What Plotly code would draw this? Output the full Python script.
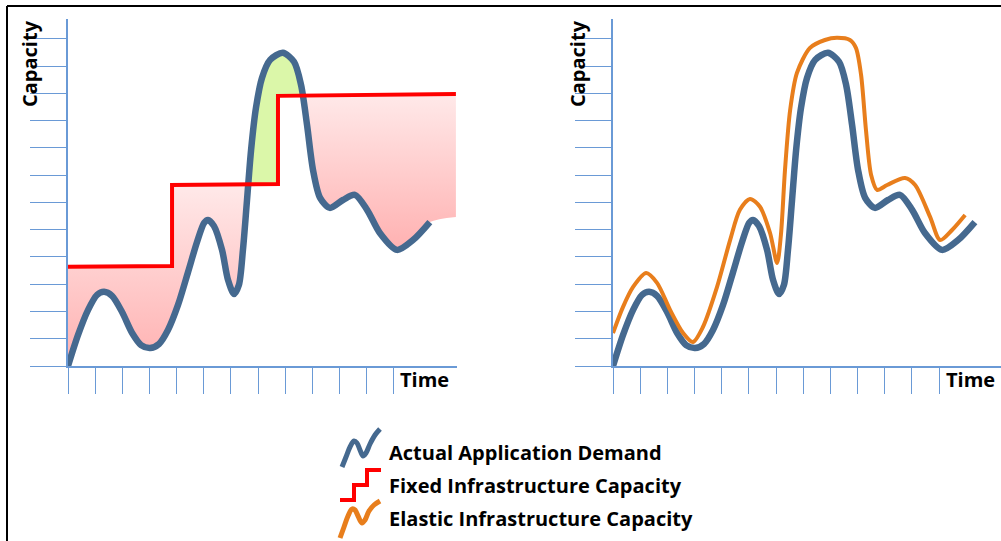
import plotly.graph_objects as go

# one unit = one tick step on both axes
time_ticks = list(range(13))
cap_ticks = list(range(13))

# actual application demand (same curve in both panels)
demand_x = [0, 0.37, 0.74, 1.07, 1.33, 1.62, 1.99, 2.36, 2.69, 3.02, 3.35, 3.68,
            4.05, 4.42, 4.75, 5.01, 5.15, 5.37, 5.67, 5.89, 6.11, 6.29, 6.44,
            6.59, 6.74, 6.92, 7.14, 7.44, 7.91, 8.32, 8.58, 8.80, 9.02, 9.28,
            9.64, 10.12, 10.56, 11.01, 11.48, 12.11, 12.70, 13.32]
demand_y = [0, 1.14, 2.06, 2.61, 2.72, 2.57, 1.98, 1.21, 0.77, 0.66, 0.81, 1.32,
            2.24, 3.45, 4.55, 5.25, 5.36, 5.14, 4.26, 3.16, 2.64, 2.97, 4.26,
            6.09, 7.93, 9.47, 10.57, 11.23, 11.49, 11.16, 10.31, 8.84, 7.19, 6.17,
            5.80, 6.09, 6.28, 5.73, 4.88, 4.26, 4.62, 5.28]

# fixed infrastructure capacity (step line)
fixed_x = [0, 3.83, 3.83, 7.73, 7.73, 14.28]
fixed_y = [3.64, 3.67, 6.64, 6.68, 9.91, 9.98]
# lower right corner of the shaded area
shade_end_x, shade_end_y = 14.28, 5.47

# elastic infrastructure capacity
elastic_x = [0, 0.37, 0.74, 1.22, 1.62, 2.10, 2.58, 2.94, 3.31, 3.83, 4.31, 4.67,
             5.04, 5.41, 5.78, 6.04, 6.18, 6.33, 6.52, 6.77, 7.25, 7.80, 8.24,
             8.72, 8.94, 9.13, 9.31, 9.50, 9.72, 10.09, 10.75, 11.12, 11.67,
             12.04, 12.48, 12.96]
elastic_y = [1.21, 2.17, 2.90, 3.41, 3.05, 2.06, 1.21, 0.88, 1.43, 2.90, 4.62, 5.73,
             6.13, 5.84, 4.88, 3.78, 4.81, 7.19, 9.39, 10.75, 11.67, 11.96, 12.04,
             11.96, 11.67, 10.68, 8.66, 7.01, 6.46, 6.64, 6.90, 6.64, 5.47,
             4.62, 4.99, 5.54]

# legend
legend_labels = ["Actual Application Demand", "Fixed Infrastructure Capacity",
                 "Elastic Infrastructure Capacity"]
icon_demand_x = [342, 346, 350, 354, 357, 360, 363, 366, 370, 375, 380]
icon_demand_y = [467, 457, 447, 441, 443, 450, 456, 453, 444, 435, 429]
icon_fixed_x = [340, 354, 354, 367, 367, 381]
icon_fixed_y = [500, 500, 485, 485, 470, 470]
icon_elastic_x = [340, 344, 348, 352, 355, 358, 362, 365, 369, 374, 380]
icon_elastic_y = [538, 527, 516, 509, 510, 516, 523, 520, 511, 505, 501]

BLUE = "#45698f"
ORANGE = "#e87e1c"
RED = "#ff0000"
GREEN = "#dbf7a9"
AXIS = "#6a9ad6"
FONT = "Open Sans"
W, H = 1001, 541


def red_at(x):
    for i in range(len(fixed_x) - 1):
        x0, x1 = fixed_x[i], fixed_x[i + 1]
        if x1 > x0 and x0 <= x <= x1:
            return fixed_y[i] + (x - x0) / (x1 - x0) * (fixed_y[i + 1] - fixed_y[i])
    return fixed_y[-1]


# split demand into runs above / below the fixed capacity
runs = []
cur = {"above": demand_y[0] > red_at(demand_x[0]), "bx": [demand_x[0]], "by": [demand_y[0]]}
for i in range(1, len(demand_x)):
    above = demand_y[i] > red_at(demand_x[i])
    if above != cur["above"]:
        d0 = demand_y[i - 1] - red_at(demand_x[i - 1])
        d1 = demand_y[i] - red_at(demand_x[i])
        t = d0 / (d0 - d1)
        cx = demand_x[i - 1] + t * (demand_x[i] - demand_x[i - 1])
        cy = red_at(cx)
        cur["bx"].append(cx)
        cur["by"].append(cy)
        runs.append(cur)
        cur = {"above": above, "bx": [cx], "by": [cy]}
    cur["bx"].append(demand_x[i])
    cur["by"].append(demand_y[i])
cur["bx"].append(shade_end_x)
cur["by"].append(shade_end_y)
runs.append(cur)

fig = go.Figure()

for r in runs:
    xa, xb = r["bx"][0], r["bx"][-1]
    rx = [xa] + [x for x in fixed_x if xa < x < xb] + [xb]
    ry = [red_at(xa)]
    for j in range(len(fixed_x)):
        if xa < fixed_x[j] < xb:
            ry.append(fixed_y[j])
    ry.append(red_at(xb))
    fig.add_trace(go.Scatter(x=rx, y=ry, mode="lines", line=dict(width=0),
                             hoverinfo="skip", showlegend=False, xaxis="x", yaxis="y"))
    if r["above"]:
        fill = dict(fillcolor=GREEN)
    else:
        lo = min(r["by"] + ry)
        hi = max(r["by"] + ry)
        fill = dict(fillgradient=dict(type="vertical", start=lo, stop=hi,
                                      colorscale=[[0, "#ffb1b1"], [1, "#ffe9e9"]]))
    fig.add_trace(go.Scatter(x=r["bx"], y=r["by"], mode="lines", fill="tonexty",
                             line=dict(width=0, shape="spline", smoothing=0.8),
                             hoverinfo="skip", showlegend=False, xaxis="x", yaxis="y", **fill))

# left panel lines
fig.add_trace(go.Scatter(x=demand_x, y=demand_y, mode="lines",
                         line=dict(color=BLUE, width=6.5, shape="spline", smoothing=0.8),
                         showlegend=False, xaxis="x", yaxis="y"))
fig.add_trace(go.Scatter(x=fixed_x, y=fixed_y, mode="lines",
                         line=dict(color=RED, width=4),
                         showlegend=False, xaxis="x", yaxis="y"))

# right panel lines
fig.add_trace(go.Scatter(x=demand_x, y=demand_y, mode="lines",
                         line=dict(color=BLUE, width=6.5, shape="spline", smoothing=0.8),
                         showlegend=False, xaxis="x2", yaxis="y2"))
fig.add_trace(go.Scatter(x=elastic_x, y=elastic_y, mode="lines",
                         line=dict(color=ORANGE, width=4, shape="spline", smoothing=0.8),
                         showlegend=False, xaxis="x2", yaxis="y2"))

# legend icons
fig.add_trace(go.Scatter(x=icon_demand_x, y=icon_demand_y, mode="lines",
                         line=dict(color=BLUE, width=5, shape="spline"),
                         showlegend=False, xaxis="x3", yaxis="y3"))
fig.add_trace(go.Scatter(x=icon_fixed_x, y=icon_fixed_y, mode="lines",
                         line=dict(color=RED, width=4),
                         showlegend=False, xaxis="x3", yaxis="y3"))
fig.add_trace(go.Scatter(x=icon_elastic_x, y=icon_elastic_y, mode="lines",
                         line=dict(color=ORANGE, width=5, shape="spline"),
                         showlegend=False, xaxis="x3", yaxis="y3"))

xstyle = dict(showline=True, linecolor=AXIS, linewidth=1.5, ticks="outside", ticklen=26,
              tickcolor=AXIS, tickwidth=1.3, tickvals=time_ticks, showticklabels=False,
              showgrid=False, zeroline=False, fixedrange=True)
ystyle = dict(showline=True, linecolor=AXIS, linewidth=1.5, ticks="outside", ticklen=36,
              tickcolor=AXIS, tickwidth=1.3, tickvals=cap_ticks, showticklabels=False,
              showgrid=False, zeroline=False, fixedrange=True, range=[0, 12.73])
ydom = [1 - 366 / H, 1 - 19 / H]

fig.update_layout(
    width=W, height=H, autosize=False,
    margin=dict(l=0, r=0, t=0, b=0),
    paper_bgcolor="white", plot_bgcolor="rgba(0,0,0,0)",
    xaxis=dict(xstyle, domain=[68 / W, 457 / W], range=[0, 14.32]),
    yaxis=dict(ystyle, domain=ydom, anchor="x"),
    xaxis2=dict(xstyle, domain=[613 / W, 1.0], range=[0, 14.28], anchor="y2"),
    yaxis2=dict(ystyle, domain=ydom, anchor="x2"),
    xaxis3=dict(domain=[330 / W, 392 / W], range=[330, 392], visible=False, fixedrange=True, anchor="y3"),
    yaxis3=dict(domain=[0, 1 - 422 / H], range=[541, 422], visible=False, fixedrange=True, anchor="x3"),
    font=dict(family=FONT, color="black"),
)

bold = dict(family=FONT, size=20, color="black", weight="bold")
annos = [
    dict(x=30 / W, y=1 - 64 / H, text="Capacity", textangle=-90),
    dict(x=578 / W, y=1 - 64 / H, text="Capacity", textangle=-90),
    dict(x=424 / W, y=1 - 379 / H, text="Time"),
    dict(x=970 / W, y=1 - 379 / H, text="Time"),
]
for a in annos:
    fig.add_annotation(xref="paper", yref="paper", showarrow=False, font=bold,
                       xanchor="center", yanchor="middle", **a)
for label, ypx in zip(legend_labels, [452, 485, 518]):
    fig.add_annotation(xref="paper", yref="paper", x=387 / W, y=1 - ypx / H, text=label,
                       xanchor="left", yanchor="middle", showarrow=False, font=bold)

# outer frame (top and left edges)
fig.add_shape(type="line", xref="paper", yref="paper", x0=7 / W, x1=1, y0=1 - 6 / H, y1=1 - 6 / H,
              line=dict(color="black", width=2))
fig.add_shape(type="line", xref="paper", yref="paper", x0=7 / W, x1=7 / W, y0=0, y1=1 - 6 / H,
              line=dict(color="black", width=2))

fig.write_html("out.html", config={"displayModeBar": False},
               post_script="document.body.style.margin='0';")
